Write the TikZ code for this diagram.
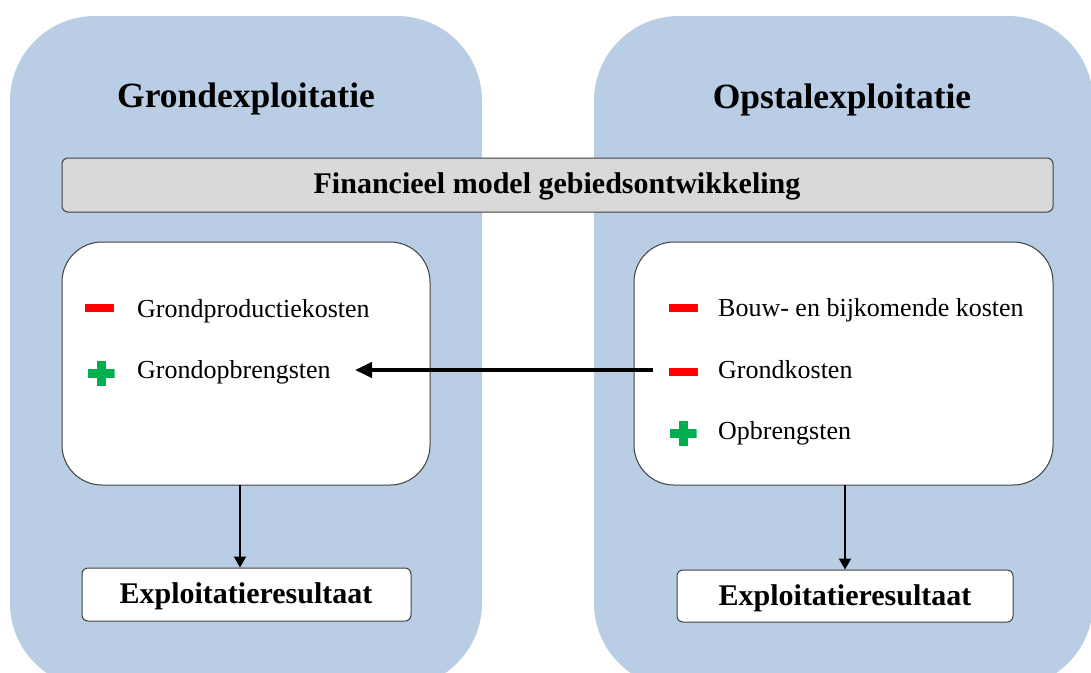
\documentclass[tikz,border=0pt]{standalone}
\usepackage{fontspec}
\setmainfont{Liberation Serif}
\usetikzlibrary{arrows.meta}
\definecolor{panelblue}{RGB}{185,205,228}
\definecolor{bargray}{RGB}{217,217,217}
\definecolor{edgegray}{RGB}{64,64,64}
\definecolor{minusred}{RGB}{255,0,0}
\definecolor{plusgreen}{RGB}{0,176,80}
\tikzset{
  panel/.style={fill=panelblue, rounded corners=85pt},
  bar/.style={draw=edgegray, fill=bargray, line width=1pt, rounded corners=6pt},
  itembox/.style={draw=edgegray, fill=white, line width=1pt, rounded corners=40pt},
  resbox/.style={draw=edgegray, fill=white, line width=1pt, rounded corners=6pt},
  title/.style={font=\fontsize{35.5}{40}\selectfont\bfseries, inner sep=0pt, anchor=base},
  bartext/.style={font=\fontsize{30}{34}\selectfont\bfseries, inner sep=0pt, anchor=base},
  restext/.style={font=\fontsize{30}{34}\selectfont\bfseries, inner sep=0pt, anchor=base},
  item/.style={font=\fontsize{26}{30}\selectfont, inner sep=0pt, anchor=base west},
  minussign/.style={fill=minusred, minimum width=29pt, minimum height=8pt, inner sep=0pt},
  plussign/.style={minimum width=27pt, minimum height=25pt, inner sep=0pt,
    path picture={
      \fill[plusgreen] ([xshift=-4.5pt]path picture bounding box.north) rectangle ([xshift=4.5pt]path picture bounding box.south);
      \fill[plusgreen] ([yshift=4.5pt]path picture bounding box.west) rectangle ([yshift=-4.5pt]path picture bounding box.east);
    }},
  bigarrow/.style={line width=4pt, -{Triangle[length=17pt,width=15pt]}},
  downarrow/.style={line width=2pt, -{Triangle[length=11pt,width=12pt]}},
}
\begin{document}
\begin{tikzpicture}[x=1pt, y=-1pt]
\useasboundingbox (0,0) rectangle (1091,672);
\clip (0,0) rectangle (1091,672);

% two background panels
\fill[panel] (10,16) rectangle (482,688);
\fill[panel] (594,16) rectangle (1093,688);

% panel titles
\node[title] (tleft) at (246,107) {Grondexploitatie};
\node[title] (tright) at (842,108) {Opstalexploitatie};

% shared model bar
\draw[bar] (62,158) rectangle (1053,212);
\node[bartext] (model) at (557,193) {Financieel model gebiedsontwikkeling};

% item boxes
\draw[itembox] (62,242) rectangle (430,485);
\coordinate (lbox) at (246,485);
\draw[itembox] (634,242) rectangle (1053,485);
\coordinate (rbox) at (845,485);

% left items
\node[minussign] (lm1) at (99,308) {};
\node[item] (lt1) at (137,317) {Grondproductiekosten};
\node[plussign] (lp1) at (101,373) {};
\node[item] (lt2) at (137,378) {Grondopbrengsten};

% right items
\node[minussign] (rm1) at (683,308) {};
\node[item] (rt1) at (718,316) {Bouw- en bijkomende kosten};
\node[minussign] (rm2) at (683,372) {};
\node[item] (rt2) at (718,378) {Grondkosten};
\node[plussign] (rp1) at (683,433) {};
\node[item] (rt3) at (718,439) {Opbrengsten};

% land costs feed the land revenues
\coordinate (arrstart) at (653,370);
\coordinate (arrend) at (355,370);
\draw[bigarrow] (arrstart) -- (arrend);

% result boxes
\node[resbox, minimum width=329pt, minimum height=53pt] (lres) at (246.5,594.5) {};
\node[restext] at (246,603) {Exploitatieresultaat};
\node[resbox, minimum width=336pt, minimum height=52pt] (rres) at (845,596) {};
\node[restext] at (845,605) {Exploitatieresultaat};

% results
\draw[downarrow] ([xshift=-6pt]lbox) -- ([xshift=-6.5pt]lres.north);
\draw[downarrow] (rbox) -- (rres.north);
\end{tikzpicture}
\end{document}
